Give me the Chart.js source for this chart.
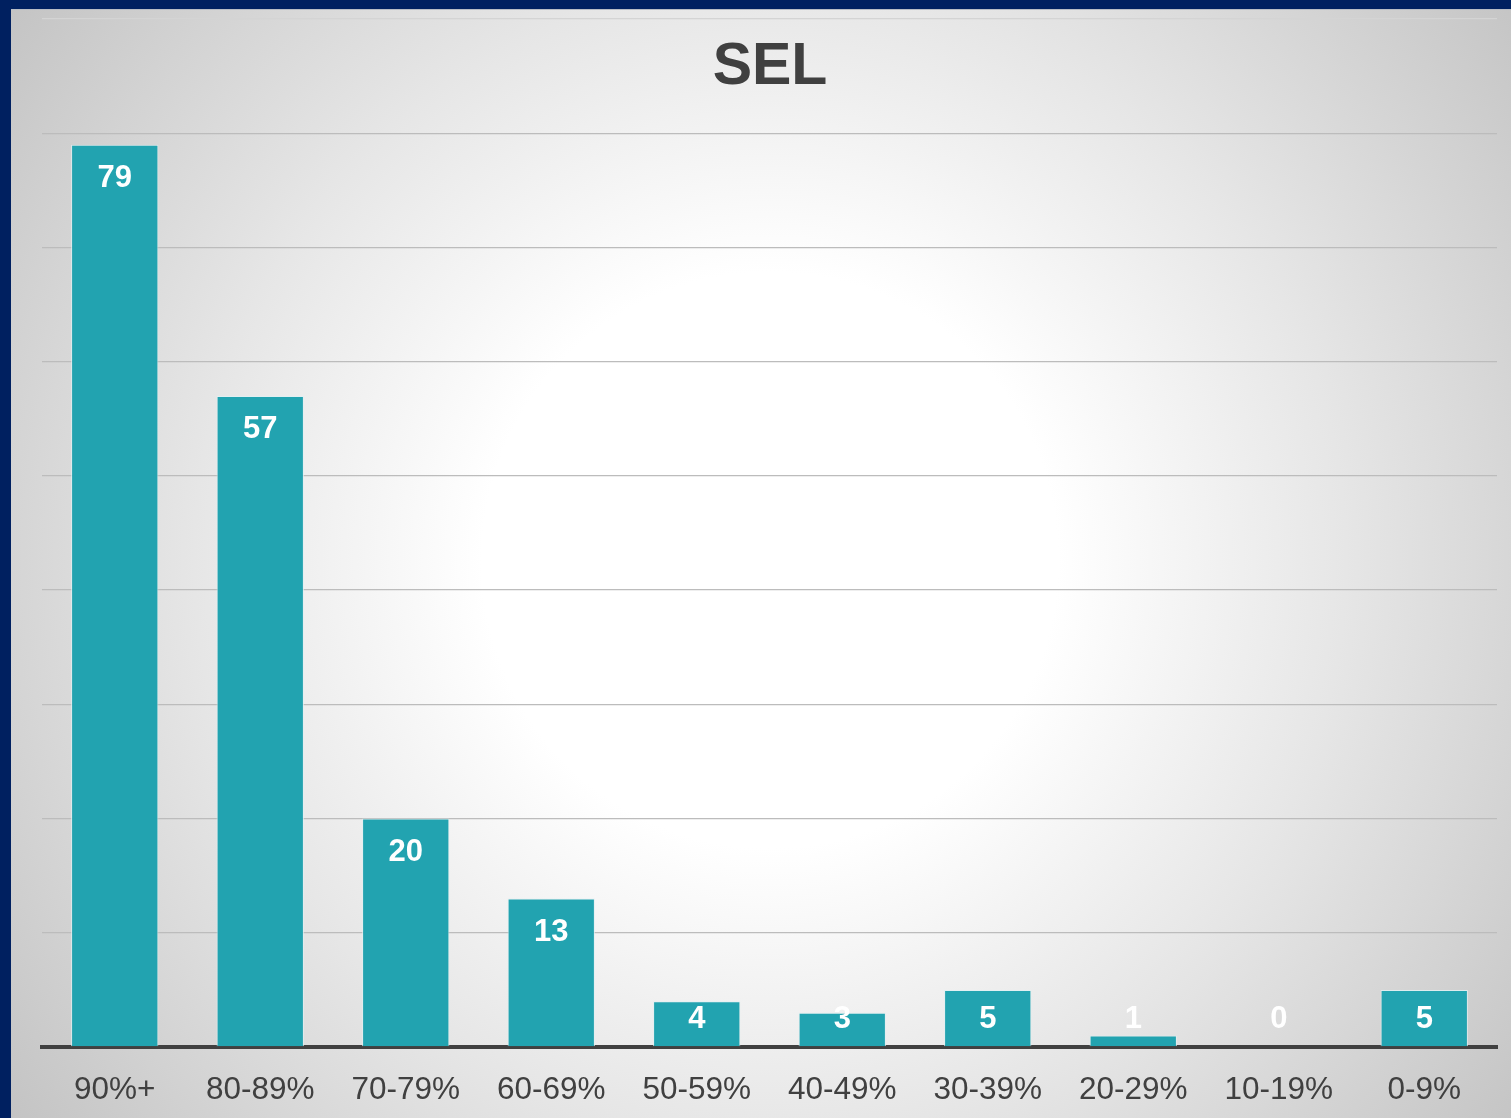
<!DOCTYPE html>
<html>
<head>
<meta charset="utf-8">
<script src="https://cdn.jsdelivr.net/npm/chart.js@4/dist/chart.umd.min.js"></script>
<style>
  html, body { margin: 0; padding: 0; background: #002060; }
  #wrap { position: absolute; left: 0; top: 0; width: 1511px; height: 1118px; }
</style>
</head>
<body>
<div id="wrap"><canvas id="c" width="1511" height="1118"></canvas></div>
<script>
const chartTitle = 'SEL';
const categories = ['90%+', '80-89%', '70-79%', '60-69%', '50-59%', '40-49%', '30-39%', '20-29%', '10-19%', '0-9%'];
const counts = [79, 57, 20, 13, 4, 3, 5, 1, 0, 5];
const yMax = 90;
const yStep = 10;

const frame = {
  id: 'frame',
  beforeDraw(chart) {
    const ctx = chart.ctx;
    const W = chart.width, H = chart.height;
    ctx.save();
    ctx.fillStyle = '#002060';
    ctx.fillRect(0, 0, W, H);
    const g = ctx.createRadialGradient(770, 560, 0, 770, 560, 960);
    g.addColorStop(0, '#ffffff');
    g.addColorStop(0.3, '#ffffff');
    g.addColorStop(0.6, '#e6e6e6');
    g.addColorStop(1, '#c2c2c2');
    ctx.fillStyle = g;
    ctx.fillRect(11, 10, W - 11, H - 10);
    ctx.fillStyle = '#b8bcc4';
    ctx.fillRect(11, 9, W - 11, 1);
    ctx.restore();
  },
  afterDraw(chart) {
    const ctx = chart.ctx;
    ctx.save();
    ctx.fillStyle = '#404040';
    ctx.font = 'bold 59px "Liberation Sans", Arial, sans-serif';
    ctx.textAlign = 'center';
    ctx.textBaseline = 'middle';
    ctx.fillText(chartTitle, 770, 68);
    ctx.restore();
  }
};

const valueLabels = {
  id: 'valueLabels',
  afterDatasetsDraw(chart) {
    const ctx = chart.ctx;
    const meta = chart.getDatasetMeta(0);
    const bottom = chart.chartArea.bottom;
    ctx.save();
    ctx.fillStyle = '#ffffff';
    ctx.font = 'bold 31px "Liberation Sans", Arial, sans-serif';
    ctx.textAlign = 'center';
    ctx.textBaseline = 'middle';
    meta.data.forEach((el, i) => {
      const y = Math.min(el.y + 34, bottom - 28);
      ctx.fillText(String(counts[i]), el.x, y);
    });
    ctx.restore();
  }
};

new Chart(document.getElementById('c'), {
  type: 'bar',
  data: {
    labels: categories,
    datasets: [{
      data: counts,
      backgroundColor: '#22a3b0',
      borderColor: 'rgba(225,240,242,0.85)',
      borderWidth: 1,
      borderSkipped: 'bottom',
      barPercentage: 0.6,
      categoryPercentage: 1.0
    }]
  },
  options: {
    responsive: false,
    animation: false,
    devicePixelRatio: 1,
    layout: { padding: { left: 42, right: 14, top: 19, bottom: 0 } },
    plugins: {
      legend: { display: false },
      title: { display: false },
      tooltip: { enabled: false }
    },
    scales: {
      x: {
        grid: { display: false, drawTicks: false },
        border: { display: true, color: '#404040', width: 4 },
        afterFit: (s) => { s.height = 71; },
        ticks: {
          color: '#404040',
          font: { family: '"Liberation Sans", Arial, sans-serif', size: 31.5 },
          padding: 24,
          maxRotation: 0,
          autoSkip: false
        }
      },
      y: {
        min: 0,
        max: yMax,
        ticks: { display: false, stepSize: yStep },
        border: { display: false },
        grid: {
          color: (c) => c.tick && c.tick.value === yMax ? '#d4d4d4' : '#bcbcbc',
          lineWidth: 1.3,
          drawTicks: false
        }
      }
    }
  },
  plugins: [frame, valueLabels]
});
</script>
</body>
</html>
